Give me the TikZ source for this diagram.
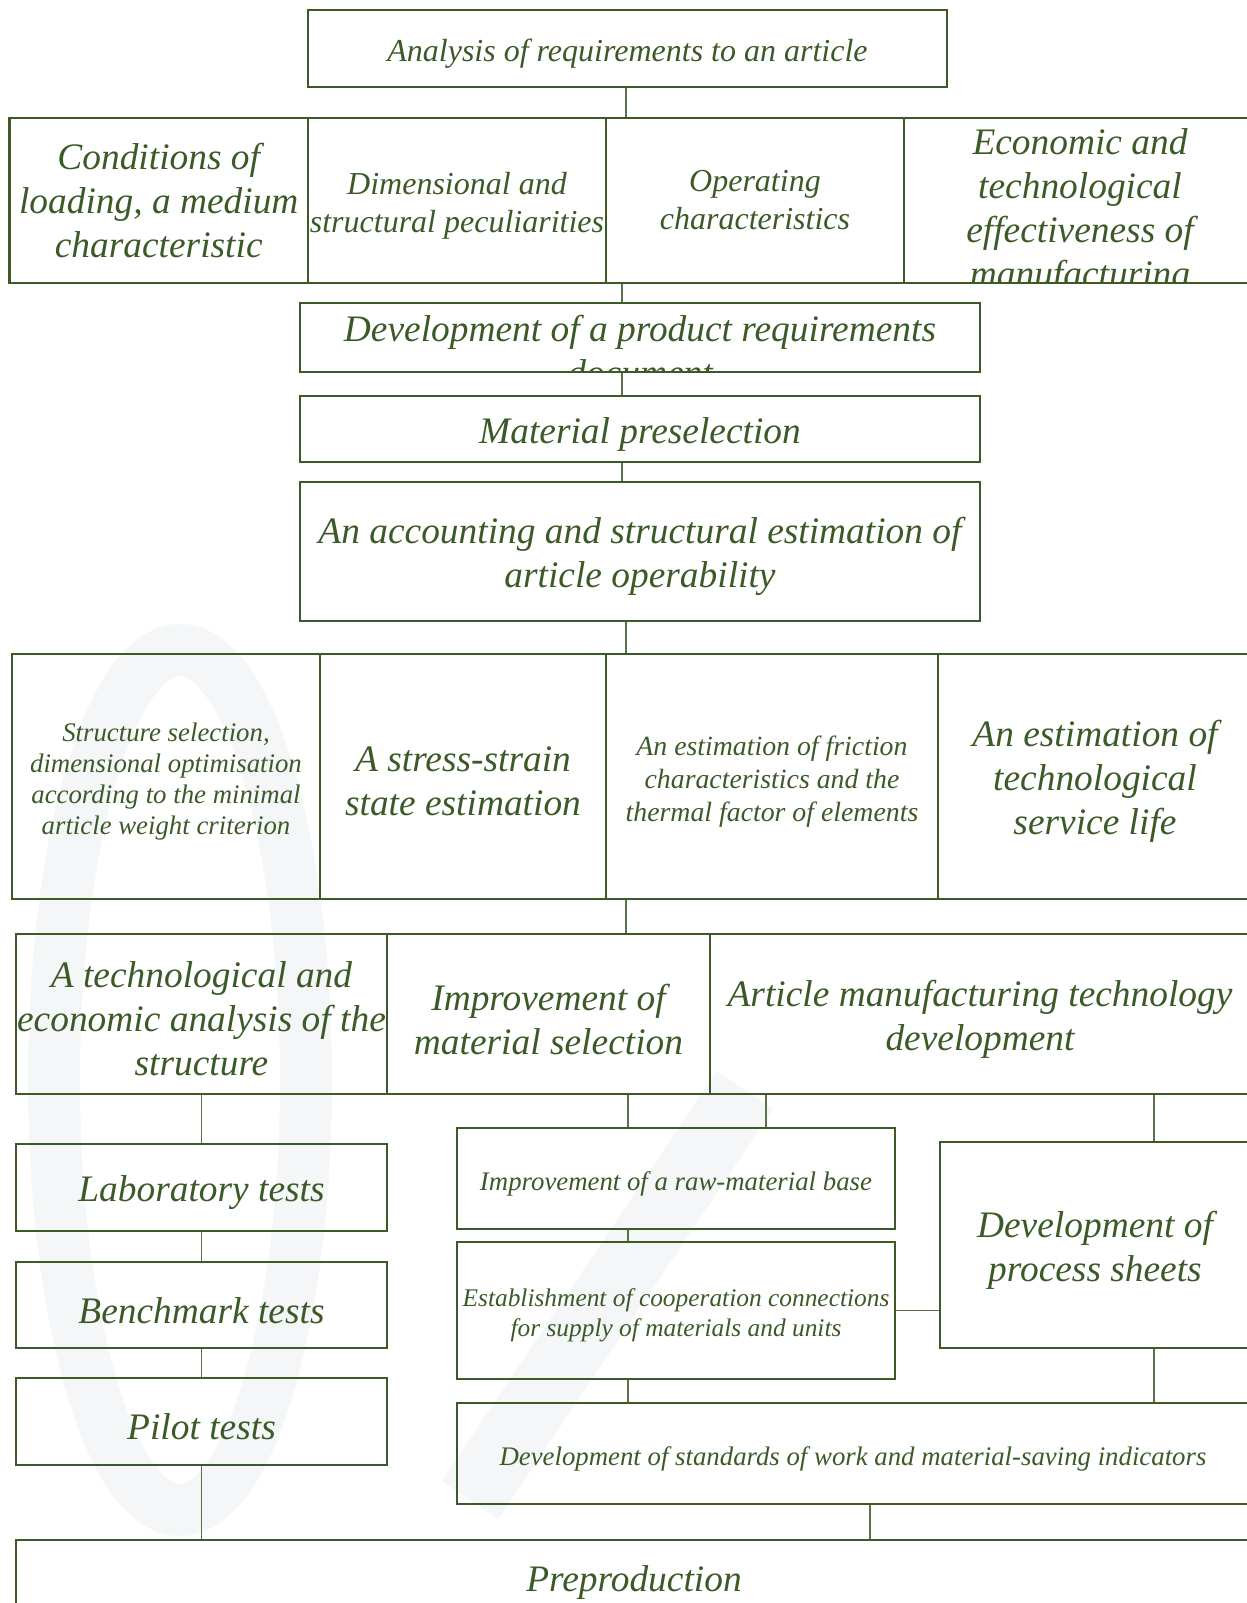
\documentclass[tikz,border=0pt]{standalone}
\usepackage{fontspec}
\setmainfont{Liberation Serif}
\definecolor{boxgreen}{RGB}{60,90,40}
\definecolor{linkgreen}{RGB}{90,115,75}
\definecolor{wmgray}{RGB}{245,246,248}
\newcommand{\lfont}{\fontsize{18.7}{22}\selectfont\itshape}
\newcommand{\mfont}{\fontsize{16}{19}\selectfont\itshape}
\newcommand{\sfont}{\fontsize{13.4}{15.5}\selectfont\itshape}
\tikzset{
  box/.style 2 args={draw=boxgreen, line width=1.2pt, inner sep=0pt,
    minimum width=#1, minimum height=#2},
  lbl/.style={text=boxgreen, inner sep=0pt, align=center},
  boxtext/.style={lbl, yshift=-2.6pt},
  link/.style={draw=linkgreen, line width=0.6pt},
}
\begin{document}
\begin{tikzpicture}[x=0.5pt,y=-0.5pt]
  \useasboundingbox (0,0) rectangle (1247,1603);
  % faint watermark
  \draw[wmgray, line width=26pt] (180,1080) ellipse [x radius=126, y radius=430];
  \draw[wmgray, line width=34pt] (745,1090) -- (470,1500);

  % top part
  \node (A) [box={319.5pt}{38.5pt}] at (627.5,48.5) {};
  \node (Atext) [boxtext, font=\mfont] at (A) {Analysis of requirements to an article};
  \node (r1a) [box={149.25pt}{82.5pt}] at (158.75,200.5) {};
  \node (r1atext) [lbl, font=\lfont] at (r1a)
    {Conditions of\\loading, a medium\\characteristic};
  \node (r1b) [box={149pt}{82.5pt}] at (457,200.5) {};
  \node (r1btext) [boxtext, font=\mfont] at (r1b)
    {Dimensional and\\structural peculiarities};
  \node (r1c) [box={149pt}{82.5pt}] at (755,200.5) {};
  \node (r1ctext) [lbl, font=\mfont] at (r1c) {Operating\\characteristics};
  \begin{scope}
    \clip (904,118) rectangle (1256,283);
    \node (r1dtext) [lbl, font=\lfont, anchor=north] at (1080,128)
      {Economic and\\technological\\effectiveness of\\manufacturing};
  \end{scope}
  \node (r1d) [box={176pt}{82.5pt}] at (1080,200.5) {};
  \begin{scope}
    \clip (300,303) rectangle (980,372);
    \node (devtext) [lbl, font=\lfont, anchor=north] at (640,315)
      {Development of a product requirements\\document};
  \end{scope}
  \node (dev) [box={340pt}{34.5pt}] at (640,337.5) {};
  \node (mat) [box={340pt}{33pt}] at (640,429) {};
  \node (mattext) [boxtext, font=\lfont] at (mat) {Material preselection};
  \node (acc) [box={340pt}{69.5pt}] at (640,551.5) {};
  \node (acctext) [boxtext, font=\lfont] at (acc)
    {An accounting and structural estimation of\\article operability};

  % estimations
  \node (r2a) [box={154pt}{122.5pt}] at (166,776.5) {};
  \node (r2atext) [boxtext, font=\sfont] at (r2a)
    {Structure selection,\\dimensional optimisation\\according to the minimal\\article weight criterion};
  \node (r2b) [box={143pt}{122.5pt}] at (463,776.5) {};
  \node (r2btext) [boxtext, font=\lfont] at (r2b) {A stress-strain\\state estimation};
  \node (r2c) [box={166pt}{122.5pt}] at (772,776.5) {};
  \node (r2ctext) [boxtext, font=\fontsize{13.9}{16.3}\selectfont\itshape] at (r2c)
    {An estimation of friction\\characteristics and the\\thermal factor of elements};
  \node (r2d) [box={157pt}{122.5pt}] at (1095,776.5) {};
  \node (r2dtext) [boxtext, font=\lfont] at (r2d)
    {An estimation of\\technological\\service life};

  \node (r3a) [box={185.5pt}{80pt}] at (201.5,1014) {};
  \node (r3atext) [boxtext, font=\lfont] at (r3a)
    {A technological and\\economic analysis of the\\structure};
  \node (r3b) [box={161.5pt}{80pt}] at (548.5,1014) {};
  \node (r3btext) [boxtext, font=\lfont] at (r3b) {Improvement of\\material selection};
  \node (r3c) [box={270pt}{80pt}] at (980,1014) {};
  \node (r3ctext) [boxtext, font=\lfont] at (r3c)
    {Article manufacturing technology\\development};

  % tests
  \node (lab) [box={185.5pt}{43.5pt}] at (201.5,1187.5) {};
  \node (labtext) [boxtext, font=\lfont] at (lab) {Laboratory tests};
  \node (bench) [box={185.5pt}{43pt}] at (201.5,1305) {};
  \node (benchtext) [boxtext, font=\lfont] at (bench) {Benchmark tests};
  \node (pilot) [box={185.5pt}{43.5pt}] at (201.5,1421.5) {};
  \node (pilottext) [boxtext, font=\lfont] at (pilot) {Pilot tests};

  \node (raw) [box={219pt}{50.5pt}] at (676,1178.5) {};
  \node (rawtext) [boxtext, font=\sfont] at (raw) {Improvement of a raw-material base};
  \node (estab) [box={219pt}{68.5pt}] at (676,1310.5) {};
  \node (estabtext) [boxtext, font=\fontsize{12.7}{15}\selectfont\itshape] at (estab)
    {Establishment of cooperation connections\\for supply of materials and units};
  \node (proc) [box={155pt}{103pt}] at (1095,1245) {};
  \node (proctext) [boxtext, font=\lfont] at (proc) {Development of\\process sheets};
  \node (std) [box={396pt}{50.5pt}] at (853,1453.5) {};
  \node (stdtext) [boxtext, font=\sfont] at (std)
    {Development of standards of work and material-saving indicators};
  \node (prep) [box={618pt}{37pt}] at (634,1577) {};
  \node (preptext) [boxtext, font=\lfont] at (prep) {Preproduction};

  % connectors
  \coordinate (sp1) at (626,0);
  \coordinate (sp2) at (622,0);
  \coordinate (sp3) at (628,0);
  \coordinate (sp4) at (766,0);
  \coordinate (sp5) at (1154,0);
  \coordinate (sp6) at (870,0);
  \draw[link] (A.south -| sp1) -- (r1c.north -| sp1);
  \draw[link] (r1c.south -| sp2) -- (dev.north -| sp2);
  \draw[link] (dev.south -| sp2) -- (mat.north -| sp2);
  \draw[link] (mat.south -| sp2) -- (acc.north -| sp2);
  \draw[link] (acc.south -| sp1) -- (r2c.north -| sp1);
  \draw[link] (r2c.south -| sp1) -- (r3b.north -| sp1);
  \draw[link] (r3a.south) -- (lab.north);
  \draw[link] (lab.south) -- (bench.north);
  \draw[link] (bench.south) -- (pilot.north);
  \draw[link] (pilot.south) -- (pilot.south |- prep.north);
  \draw[link] (r3b.south -| sp3) -- (raw.north -| sp3);
  \draw[link] (r3c.south -| sp4) -- (raw.north -| sp4);
  \draw[link] (r3c.south -| sp5) -- (proc.north -| sp5);
  \draw[link] (raw.south -| sp3) -- (estab.north -| sp3);
  \draw[link] (estab.south -| sp3) -- (std.north -| sp3);
  \draw[link] (estab.east) -- (estab.east -| proc.west);
  \draw[link] (proc.south -| sp5) -- (std.north -| sp5);
  \draw[link] (std.south -| sp6) -- (prep.north -| sp6);
\end{tikzpicture}
\end{document}
